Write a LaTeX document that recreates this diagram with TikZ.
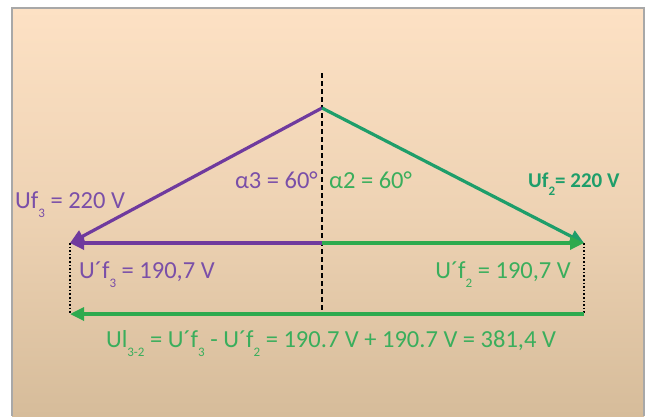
\documentclass[tikz,border=0pt]{standalone}
\usepackage{fontspec}
\setmainfont{Carlito}
\usetikzlibrary{arrows.meta}
\definecolor{bgtop}{HTML}{FDE1C4}
\definecolor{bgbot}{HTML}{D6BC9A}
\definecolor{purp}{HTML}{6F3A9E}
\definecolor{purptxt}{HTML}{7A4FA8}
\definecolor{grn}{HTML}{1E9E6A}
\definecolor{grnh}{HTML}{2DAA4E}
\definecolor{grntxt}{HTML}{3AAE5C}
\definecolor{framec}{HTML}{A8A8A8}
\newcommand{\lowsub}[1]{\raisebox{-0.4em}{\fontsize{13}{14}\selectfont #1}}
\tikzset{
  vec/.style={line width=3.2pt,-{Triangle[length=14pt,width=13pt]}},
  lbl/.style={font=\fontsize{24.5}{28}\selectfont,inner sep=0pt},
  guide/.style={line width=1.6pt,dotted,black},
}
\begin{document}
\begin{tikzpicture}[x=1pt,y=-1pt]
\useasboundingbox (0,0) rectangle (650,416);
\fill[white] (0,0) rectangle (650,416);
\shade[top color=bgtop,bottom color=bgbot,middle color=bgtop!60!bgbot] (12,8) rectangle (644,416);
\draw[framec,line width=1.5pt] (12,416) -- (12,8) -- (644,8) -- (644,416);
% points
\coordinate (apex) at (322,108);
\coordinate (top) at (322,73);
\coordinate (mid) at (322,243);
\coordinate (L) at (70,243);
\coordinate (R) at (584,243);
\coordinate (Lb) at (70,314);
\coordinate (Rb) at (584,314);
\coordinate (midb) at (322,316);
% guides
\draw[black,line width=2pt,dash pattern=on 5pt off 3pt] (top) -- (midb);
\draw[guide] (L) -- (Lb);
\draw[guide] (R) -- (Rb);
% vectors
\draw[vec,purp] (apex) -- (L);
\draw[vec,purp] (mid) -- (L);
\draw[vec,grn] (apex) -- (R);
\draw[vec,grnh] (mid) -- (R);
\draw[vec,grnh] (Rb) -- (Lb);
% labels
\node[lbl,purptxt,anchor=base west] (uf3) at (15,208) {Uf\lowsub{3} = 220 V};
\node[lbl,purptxt,anchor=base east] (a3) at (318,188) {α3 = 60°};
\node[lbl,grntxt,anchor=base west] (a2) at (329,188) {α2 = 60°};
\node[lbl,grn,anchor=base west,font=\fontsize{21}{24}\selectfont\bfseries] (uf2) at (528,187) {Uf\lowsub{2}= 220 V};
\node[lbl,purptxt,anchor=base west] (uf3p) at (79,278) {U´f\lowsub{3} = 190,7 V};
\node[lbl,grntxt,anchor=base east] (uf2p) at (571,278) {U´f\lowsub{2} = 190,7 V};
\node[lbl,grntxt,anchor=base] (ul) at (331,347) {Ul\lowsub{3-2} = U´f\lowsub{3} - U´f\lowsub{2} = 190.7 V + 190.7 V = 381,4 V};
\end{tikzpicture}
\end{document}
